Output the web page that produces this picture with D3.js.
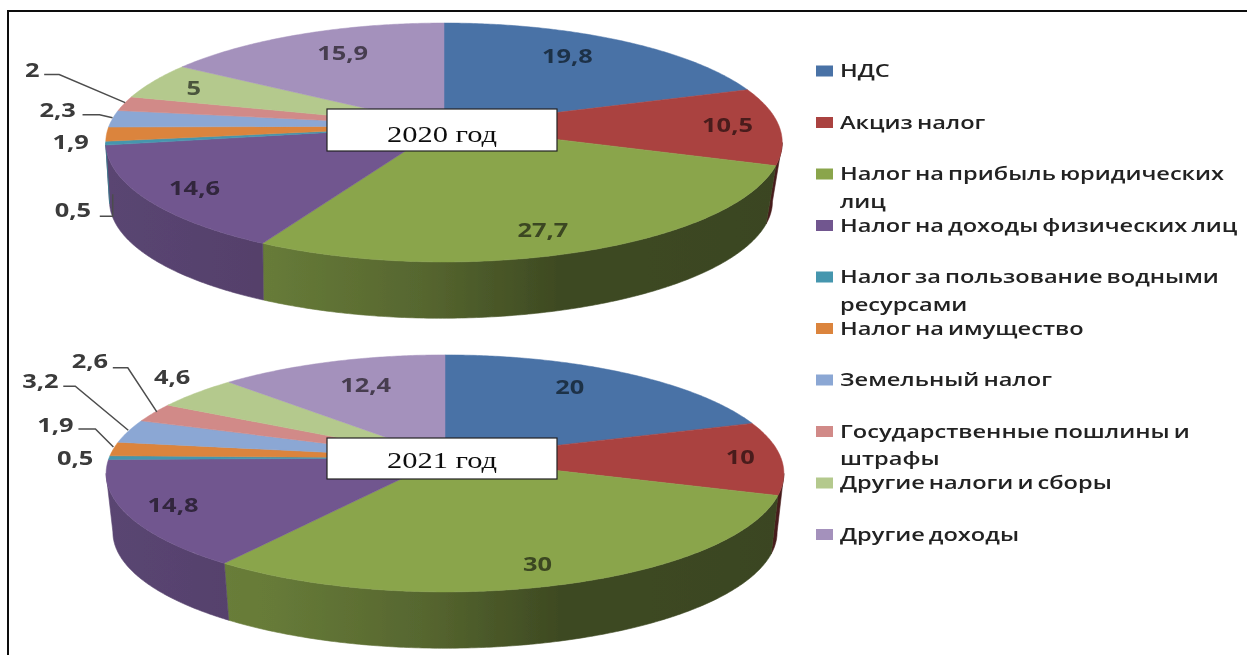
<!DOCTYPE html>
<html>
<head>
<meta charset="utf-8">
<script src="https://cdn.jsdelivr.net/npm/d3@7"></script>
<style>
  html, body { margin: 0; padding: 0; background: #fff; }
  svg { display: block; }
  text { font-family: "Open Sans", sans-serif; font-weight: 600; }
  .value { font-weight: 700; }
  .year { font-family: "Liberation Serif", serif; font-weight: 400; font-size: 24px; fill: #111; }
</style>
</head>
<body>
<div id="chart"></div>
<script>
const categories = [
  "НДС",
  "Акциз налог",
  "Налог на прибыль юридических лиц",
  "Налог на доходы физических лиц",
  "Налог за пользование водными ресурсами",
  "Налог на имущество",
  "Земельный налог",
  "Государственные пошлины и штрафы",
  "Другие налоги и сборы",
  "Другие доходы"
];
const values2020 = [19.8, 10.5, 27.7, 14.6, 0.5, 1.9, 2.3, 2, 5, 15.9];
const values2021 = [20, 10, 30, 14.8, 0.5, 1.9, 3.2, 2.6, 4.6, 12.4];
const colors = ["#4a72a6", "#aa4340", "#8aa54c", "#71568f", "#4596ae", "#db843d", "#8ba7d4", "#d18a88", "#b4c98d", "#a491bc"];

// legend wrapping, the source breaks these by hand
const legendLines = [
  ["НДС"],
  ["Акциз налог"],
  ["Налог на прибыль юридических", "лиц"],
  ["Налог на доходы физических лиц"],
  ["Налог за пользование водными", "ресурсами"],
  ["Налог на имущество"],
  ["Земельный налог"],
  ["Государственные пошлины и", "штрафы"],
  ["Другие налоги и сборы"],
  ["Другие доходы"]
];

// label offsets from the slice anchor, one row per slice
const offsets2020 = [[-3,-8],[49,-1],[5,20],[-47,11],[-33,67],[-36,8],[-55,-9],[-92,-34],[-44,-6],[2,-7]];
const offsets2021 = [[-4,-10],[60,-1],[13,21],[-54,8],[-34,0],[-58,-24],[-88,-50],[-64,-52],[-95,-35],[3,-4]];
const leaders2020 = {
  4: [[7,51],[7,73],[-6,73]],
  6: [[0,-1],[-13,-4],[-30,-4]],
  7: [[1,-1],[-65,-29],[-80,-29]]
};
const leaders2021 = {
  5: [[0,-2],[-18,-20],[-35,-20]],
  6: [[0,-1],[-53,-45],[-65,-45]],
  7: [[3,-1],[-26,-45],[-41,-45]]
};
const outside2020 = [4, 5, 6, 7];
const outside2021 = [4, 5, 6, 7];
const greyLabels2020 = [4, 5, 6, 7];
const greyLabels2021 = [4, 5, 6, 7, 8];

const width = 1247, height = 655;
const stretch = 1.27;   // the picture was widened when it was pasted

const svg = d3.select("#chart").append("svg")
  .attr("width", width)
  .attr("height", height);

const defs = svg.append("defs");
defs.append("filter").attr("id", "soft")
  .attr("x", 0).attr("y", 0).attr("width", 1).attr("height", 1)
  .attr("filterUnits", "objectBoundingBox")
  .append("feGaussianBlur").attr("stdDeviation", 0.55);

const root = svg.append("g").attr("filter", "url(#soft)");
root.append("rect").attr("width", width).attr("height", height).attr("fill", "#fff");

// side wall gets darker left to right
const wallShade = d3.scaleLinear()
  .domain([0, 0.25, 0.47, 0.67, 1])
  .range([0.8, 0.74, 0.62, 0.45, 0.42]);

function drawPie(opts) {
  const g = root.append("g");
  const pie = d3.pie().sort(null).value(function (d) { return d; });
  const arcs = pie(opts.values);

  const sx = d3.scaleLinear().domain([-1, 1]).range([opts.cx - opts.a, opts.cx + opts.a]);
  const sy = d3.scaleLinear().domain([-1, 1]).range([opts.cy + opts.b, opts.cy - opts.b]);

  // disc point to screen, k is the perspective of the 3d pie
  function project(r, angle) {
    const X = r * Math.sin(angle);
    const Y = r * Math.cos(angle);
    const d = 1 + opts.k * Y;
    return [sx(X / d), sy(Y / d)];
  }
  function lower(p) {
    return [
      opts.cx + opts.dx + opts.shrink * (p[0] - opts.cx),
      opts.cy + opts.depth + opts.shrink * (p[1] - opts.cy)
    ];
  }
  function rim(start, end) {
    const n = Math.max(2, Math.ceil((end - start) / 0.01));
    return d3.range(n + 1).map(function (i) {
      return project(1, start + (end - start) * i / n);
    });
  }
  const line = d3.line();

  // only the front part of the rim has a visible wall
  const frontStart = Math.acos(-opts.k);
  const frontEnd = 2 * Math.PI - frontStart;

  arcs.forEach(function (a, i) {
    const start = Math.max(a.startAngle, frontStart);
    const end = Math.min(a.endAngle, frontEnd);
    if (end <= start) return;
    const id = "wall-" + opts.name + "-" + i;
    const grad = defs.append("linearGradient").attr("id", id)
      .attr("gradientUnits", "userSpaceOnUse")
      .attr("x1", sx(-1)).attr("x2", sx(1)).attr("y1", 0).attr("y2", 0);
    wallShade.domain().forEach(function (t) {
      const c = d3.rgb(colors[i]);
      const f = wallShade(t);
      grad.append("stop").attr("offset", t)
        .attr("stop-color", d3.rgb(c.r * f, c.g * f, c.b * f).formatHex());
    });
    const top = rim(start, end);
    const pts = top.concat(top.map(lower).reverse());
    g.append("path")
      .attr("d", line(pts) + "Z")
      .attr("fill", "url(#" + id + ")")
      .attr("stroke", "url(#" + id + ")")
      .attr("stroke-width", 0.6);
  });

  arcs.forEach(function (a, i) {
    const pts = [project(0, 0)].concat(rim(a.startAngle, a.endAngle));
    g.append("path")
      .attr("d", line(pts) + "Z")
      .attr("fill", colors[i])
      .attr("stroke", colors[i])
      .attr("stroke-width", 0.5);
  });

  arcs.forEach(function (a, i) {
    const mid = (a.startAngle + a.endAngle) / 2;
    const anchor = project(opts.outside.indexOf(i) >= 0 ? 1 : 0.7, mid);
    const off = opts.offsets[i];
    const leader = opts.leaders[i];
    if (leader) {
      g.append("path")
        .attr("d", line(leader.map(function (o) { return [anchor[0] + o[0], anchor[1] + o[1]]; })))
        .attr("fill", "none")
        .attr("stroke", "#4d4d4d")
        .attr("stroke-width", 1.5);
    }
    g.append("text")
      .attr("class", "value")
      .attr("transform", "translate(" + (anchor[0] + off[0]) + "," + (anchor[1] + off[1]) + ") scale(" + stretch + ",1)")
      .attr("text-anchor", "middle")
      .attr("dy", "0.36em")
      .attr("font-size", 20)
      .attr("fill", opts.grey.indexOf(i) >= 0 ? "#3a3a3a" : d3.color(colors[i]).darker(2.4).formatHex())
      .text(String(opts.values[i]).replace(".", ","));
  });

  g.append("rect")
    .attr("x", opts.box[0]).attr("y", opts.box[1])
    .attr("width", opts.box[2]).attr("height", opts.box[3])
    .attr("fill", "#fff")
    .attr("stroke", "#222")
    .attr("stroke-width", 1.2);
  g.append("text")
    .attr("class", "year")
    .attr("transform", "translate(" + (opts.box[0] + opts.box[2] / 2) + "," + opts.baseline + ") scale(" + stretch + ",1)")
    .attr("text-anchor", "middle")
    .text(opts.title);
}

drawPie({
  name: "a", title: "2020 год", values: values2020,
  cx: 444, cy: 126, a: 335, b: 117.2, k: 0.138, depth: 59, shrink: 0.98, dx: -3,
  offsets: offsets2020, leaders: leaders2020, outside: outside2020, grey: greyLabels2020,
  box: [327, 109, 230, 42], baseline: 142
});
drawPie({
  name: "b", title: "2021 год", values: values2021,
  cx: 445, cy: 458, a: 336, b: 116.5, k: 0.13, depth: 59, shrink: 0.98, dx: 0,
  offsets: offsets2021, leaders: leaders2021, outside: outside2021, grey: greyLabels2021,
  box: [327, 438, 230, 41], baseline: 468
});

// legend
const legendY = d3.scaleLinear().domain([0, categories.length - 1]).range([71, 534.5]);
const legend = root.append("g");
categories.forEach(function (name, i) {
  const y = legendY(i);
  legend.append("rect")
    .attr("x", 816).attr("y", y - 5.5)
    .attr("width", 17).attr("height", 11)
    .attr("fill", colors[i]);
  legendLines[i].forEach(function (txt, j) {
    legend.append("text")
      .attr("transform", "translate(840," + (y + j * 27.5) + ") scale(1.35,1)")
      .attr("dy", "0.36em")
      .attr("font-size", 17.5)
      .attr("word-spacing", -1.5)
      .attr("fill", "#222")
      .text(txt);
  });
});

// page frame, only top and left survive in the scan
root.append("path")
  .attr("d", d3.line()([[8, height], [8, 11], [width, 11]]))
  .attr("fill", "none")
  .attr("stroke", "#111")
  .attr("stroke-width", 2);
</script>
</body>
</html>
